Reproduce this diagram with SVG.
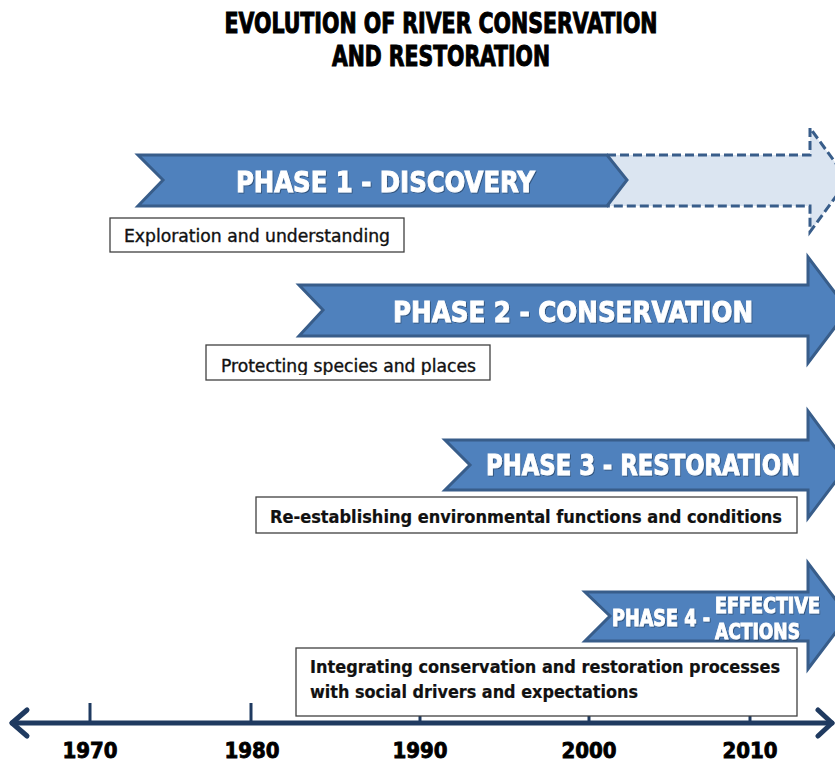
<svg xmlns="http://www.w3.org/2000/svg" width="835" height="762" viewBox="0 0 835 762">
<style>
.title{font-family:"Liberation Sans Narrow","DejaVu Sans Condensed","Liberation Sans",sans-serif;font-stretch:condensed;font-weight:bold;font-size:28px;fill:#000;stroke:#000;stroke-width:1;text-anchor:middle}
.arrow{fill:#4f81bd;stroke:#385d8a;stroke-width:3;stroke-linejoin:miter}
.ghost{fill:#dbe5f1;stroke:#385d8a;stroke-width:3;stroke-dasharray:9 4}
.ptxt{font-family:"Liberation Sans Narrow","DejaVu Sans Condensed","Liberation Sans",sans-serif;font-stretch:condensed;font-weight:bold;fill:#fff;stroke:#fff;stroke-width:0.9}
.box{fill:#fff;stroke:#404040;stroke-width:1.3}
.btxt{font-family:"DejaVu Sans Condensed","Liberation Sans Narrow",sans-serif;font-stretch:condensed;font-size:18px;fill:#111;stroke:#111;stroke-width:0.35}
.bold{font-weight:bold;stroke-width:0.2}
.axis{stroke:#1f3a60;stroke-width:5;fill:none;stroke-linecap:round;stroke-linejoin:round}
.tick{stroke:#1f3a60;stroke-width:3}
.year{font-family:"Liberation Sans Narrow","DejaVu Sans Condensed","Liberation Sans",sans-serif;font-stretch:condensed;font-weight:bold;font-size:22px;fill:#000;stroke:#000;stroke-width:0.8;text-anchor:middle}
</style>
<defs>
<filter id="sh" x="-5%" y="-20%" width="110%" height="140%">
<feDropShadow dx="1" dy="1" stdDeviation="0.6" flood-color="#000" flood-opacity="0.35"/>
</filter>
<clipPath id="clip2"><rect x="206" y="345" width="284" height="30"/></clipPath>
</defs>

<g id="title">
<text class="title" x="441" y="33" textLength="433" lengthAdjust="spacingAndGlyphs">EVOLUTION OF RIVER CONSERVATION</text>
<text class="title" x="441" y="66" textLength="218" lengthAdjust="spacingAndGlyphs">AND RESTORATION</text>
</g>

<g id="connectors">
<g id="timeline">
<line class="tick" x1="90" y1="703" x2="90" y2="723"/>
<line class="tick" x1="251" y1="703" x2="251" y2="723"/>
<line class="tick" x1="420" y1="703" x2="420" y2="723"/>
<line class="tick" x1="589" y1="703" x2="589" y2="723"/>
<line class="tick" x1="750" y1="703" x2="750" y2="723"/>
<line class="axis" x1="12" y1="723" x2="832" y2="723"/>
<polyline class="axis" points="27,710 12,723 27,736"/>
<polyline class="axis" points="818,710 832,723 818,736"/>
</g>
</g>

<g id="years">
<text class="year" x="90" y="758">1970</text>
<text class="year" x="252" y="758">1980</text>
<text class="year" x="420" y="758">1990</text>
<text class="year" x="589" y="758">2000</text>
<text class="year" x="750" y="758">2010</text>
</g>

<g id="phase1">
<path class="ghost" d="M607,155 L810,155 L810,128 L848,180 L810,232 L810,206 L607,206"/>
<path class="arrow" d="M138,155 L607,155 L627,180 L607,206 L138,206 L163,180 Z"/>
<text class="ptxt" x="236" y="192" font-size="29" textLength="299" lengthAdjust="spacingAndGlyphs" filter="url(#sh)">PHASE 1 - DISCOVERY</text>
</g>

<g id="box1">
<rect class="box" x="110" y="218" width="294" height="34"/>
<text class="btxt" x="124" y="242" textLength="266" lengthAdjust="spacingAndGlyphs">Exploration and understanding</text>
</g>

<g id="phase2">
<path class="arrow" d="M299,285 L808,285 L808,257 L848,310 L808,363 L808,336 L299,336 L323,310 Z"/>
<text class="ptxt" x="393" y="322" font-size="29" textLength="360" lengthAdjust="spacingAndGlyphs" filter="url(#sh)">PHASE 2 - CONSERVATION</text>
</g>

<g id="box2">
<rect class="box" x="206" y="345" width="284" height="35"/>
<text class="btxt" x="221" y="372" textLength="255" lengthAdjust="spacingAndGlyphs" clip-path="url(#clip2)">Protecting species and places</text>
</g>

<g id="phase3">
<path class="arrow" d="M445,440 L808,440 L808,411 L848,465 L808,518 L808,490 L445,490 L470,465 Z"/>
<text class="ptxt" x="486" y="475" font-size="29" textLength="314" lengthAdjust="spacingAndGlyphs" filter="url(#sh)">PHASE 3 - RESTORATION</text>
</g>

<g id="box3">
<rect class="box" x="256" y="497" width="541" height="36"/>
<text class="btxt bold" x="270" y="523" textLength="512" lengthAdjust="spacingAndGlyphs">Re-establishing environmental functions and conditions</text>
</g>

<g id="phase4">
<path class="arrow" d="M585,592 L808,592 L808,563 L848,616 L808,669 L808,641 L585,641 L610,616 Z"/>
<text class="ptxt" x="612" y="626" font-size="23" textLength="98" lengthAdjust="spacingAndGlyphs" filter="url(#sh)">PHASE 4 -</text>
<text class="ptxt" x="715" y="613" font-size="21" textLength="105" lengthAdjust="spacingAndGlyphs" filter="url(#sh)">EFFECTIVE</text>
<text class="ptxt" x="715" y="639" font-size="21" textLength="85" lengthAdjust="spacingAndGlyphs" filter="url(#sh)">ACTIONS</text>
</g>

<g id="box4">
<rect class="box" x="296" y="648" width="501" height="68"/>
<text class="btxt bold" x="310" y="673" textLength="470" lengthAdjust="spacingAndGlyphs">Integrating conservation and restoration processes</text>
<text class="btxt bold" x="310" y="698" textLength="328" lengthAdjust="spacingAndGlyphs">with social drivers and expectations</text>
</g>
</svg>
